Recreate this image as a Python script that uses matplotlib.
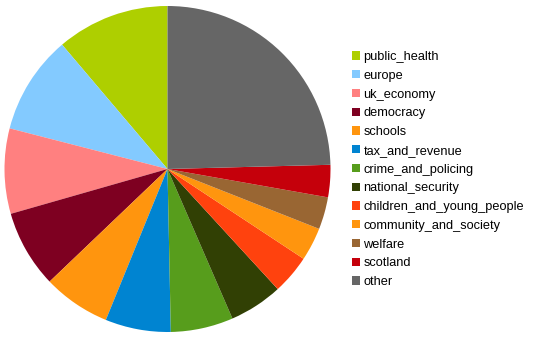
import matplotlib
matplotlib.use("Agg")
import matplotlib.pyplot as plt
from matplotlib.patches import Patch

labels = ["public_health", "europe", "uk_economy", "democracy", "schools",
          "tax_and_revenue", "crime_and_policing", "national_security",
          "children_and_young_people", "community_and_society", "welfare",
          "scotland", "other"]
values = [11.2, 9.8, 8.45, 7.7, 6.7, 6.5, 6.2, 5.3, 3.9, 3.3, 3.2, 3.2, 24.6]
colors = ["#aecf00", "#83caff", "#ff8080", "#7e0021", "#ff950e", "#0084d1",
          "#579d1c", "#314004", "#ff420e", "#ff950e", "#996633", "#c5000b",
          "#666666"]

plt.rcParams['font.family'] = ['Liberation Sans', 'DejaVu Sans']
W, H = 540, 340
fig = plt.figure(figsize=(W/100, H/100), dpi=100)
cx, cy, r = 167.5, 169, 163
ax = fig.add_axes([(cx - r)/W, (H - cy - r)/H, 2*r/W, 2*r/H])
ax.pie(values, colors=colors, startangle=90, counterclock=True,
       wedgeprops=dict(linewidth=0), radius=1)
ax.set_xlim(-1, 1)
ax.set_ylim(-1, 1)
ax.set_aspect('equal')
ax.axis('off')

handles = [Patch(facecolor=c, edgecolor='none') for c in colors]
fs = 9.2
fs_px = fs * 100 / 72
leg = fig.legend(handles, labels, loc='upper left',
                 bbox_to_anchor=(352/W, 1 - 51/H), frameon=False,
                 fontsize=fs, labelspacing=(18.77 - fs_px)/fs_px + 0.06,
                 handlelength=8/fs_px, handleheight=8/fs_px,
                 handletextpad=3.5/fs_px, borderpad=0, borderaxespad=0)
fig.savefig("out.png", dpi=100)
